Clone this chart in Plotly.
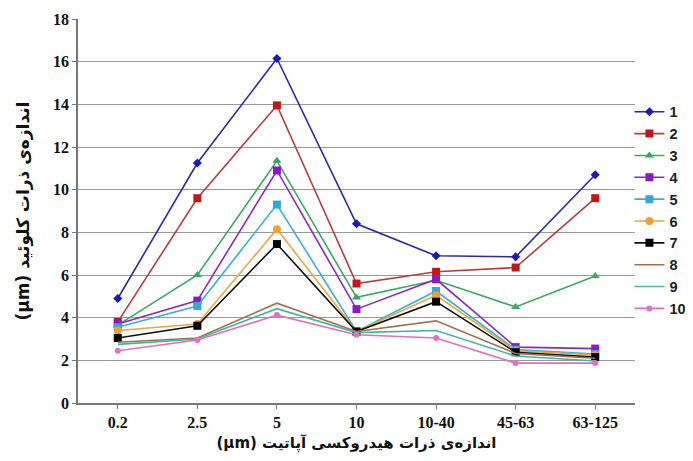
import plotly.graph_objects as go

categories = ["0.2", "2.5", "5", "10", "10-40", "45-63", "63-125"]
series_names = ["1", "2", "3", "4", "5", "6", "7", "8", "9", "10"]
s1 = [4.9, 11.25, 16.15, 8.4, 6.9, 6.85, 10.7]
s2 = [3.8, 9.6, 13.95, 5.6, 6.15, 6.35, 9.6]
s3 = [3.65, 6.0, 11.35, 4.95, 5.75, 4.5, 5.95]
s4 = [3.7, 4.8, 10.9, 4.4, 5.8, 2.62, 2.55]
s5 = [3.55, 4.55, 9.3, 3.35, 5.25, 2.5, 2.3]
s6 = [3.4, 3.7, 8.15, 3.35, 5.05, 2.45, 2.25]
s7 = [3.05, 3.62, 7.45, 3.35, 4.75, 2.38, 2.15]
s8 = [2.85, 3.05, 4.68, 3.35, 3.85, 2.32, 2.1]
s9 = [2.75, 3.0, 4.42, 3.3, 3.4, 2.2, 1.97]
s10 = [2.45, 2.95, 4.12, 3.2, 3.05, 1.87, 1.87]
all_series = [s1, s2, s3, s4, s5, s6, s7, s8, s9, s10]

y_ticks = [0, 2, 4, 6, 8, 10, 12, 14, 16, 18]

x_title = "(µm) اندازه‌ی ذرات هیدروکسی آپاتیت"
y_title = "(µm) اندازه‌ی ذرات کلوئید"

line_colors = ["#2b2ba8", "#b04040", "#3aa862", "#8a2ab8", "#38b0d0",
               "#e8a848", "#111111", "#a07050", "#40b89a", "#e070c0"]
marker_colors = ["#1a1ab8", "#c01818", "#3aa862", "#8a18c8", "#30a8d8",
                 "#f0a030", "#000000", "#a07050", "#40b89a", "#e070c8"]
symbols = ["diamond", "square", "triangle-up", "square", "square",
           "circle", "square", "circle", "circle", "circle"]
msizes = [7, 8, 8, 8, 8, 8, 8, 0, 0, 6]

fig = go.Figure()
for name, vals, lc, mc, sym, ms in zip(series_names, all_series, line_colors,
                                       marker_colors, symbols, msizes):
    mode = "lines+markers" if ms > 0 else "lines"
    fig.add_trace(go.Scatter(
        x=categories, y=vals, name=name, mode=mode,
        line=dict(color=lc, width=1.6),
        marker=dict(symbol=sym, size=ms, color=mc, line=dict(width=0)),
    ))

fig.update_layout(
    width=693, height=461,
    margin=dict(l=70, r=66, t=11, b=66, autoexpand=False),
    paper_bgcolor="white", plot_bgcolor="white",
    showlegend=True,
    legend=dict(x=0.99, xanchor="left", y=0.80, yanchor="top",
                font=dict(family="Liberation Sans", size=14.5, color="#222", weight="bold"),
                itemwidth=30, tracegroupgap=0, bgcolor="rgba(0,0,0,0)"),
    xaxis=dict(
        type="category", range=[-0.5, 6.5],
        showline=True, linecolor="#777", linewidth=1.5,
        ticks="outside", ticklen=4, tickcolor="#777",
        showgrid=False,
        tickfont=dict(family="Liberation Serif", size=16, color="#111", weight="bold"),
        title=dict(text=x_title,
                   font=dict(family="DejaVu Sans", size=15, color="#111", weight="bold"),
                   standoff=8),
    ),
    yaxis=dict(
        range=[0, 18], tickvals=y_ticks,
        showline=True, linecolor="#777", linewidth=1.5,
        ticks="outside", ticklen=4, tickcolor="#777",
        showgrid=True, gridcolor="#9a9a9a", gridwidth=1,
        zeroline=False,
        tickfont=dict(family="Liberation Serif", size=16, color="#111", weight="bold"),
        title=dict(text=y_title,
                   font=dict(family="DejaVu Sans", size=17, color="#111", weight="bold"),
                   standoff=19),
    ),
)

fig.write_html("out.html")
